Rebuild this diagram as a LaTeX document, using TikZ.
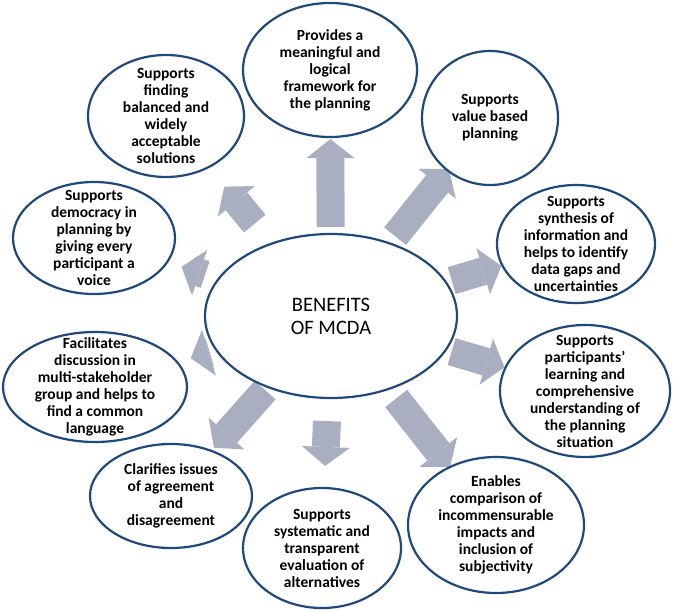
\documentclass[tikz,border=0pt]{standalone}
\usepackage{fontspec}
\setmainfont{Carlito}
\usetikzlibrary{shapes.geometric,arrows.meta,backgrounds}
\definecolor{ringblue}{RGB}{31,73,125}
\definecolor{arrowgray}{RGB}{169,175,193}
\tikzset{
  benefit/.style={ellipse, draw=ringblue, line width=2.2pt, fill=white, align=center,
    inner xsep=-12pt, inner ysep=-25pt, font=\fontsize{15.5}{17}\selectfont\bfseries},
  benefitarrow/.style={color=arrowgray, line width=28pt,
    -{Triangle[length=19pt,width=48pt,line width=0pt]}}
}
\begin{document}
\begin{tikzpicture}[x=1pt,y=-1pt]
\useasboundingbox (0,0) rectangle (673,610);
% centre
\node[benefit, inner sep=2pt, minimum width=252pt, minimum height=164pt,
  font=\fontsize{20.5}{23}\selectfont] (mcda) at (331,316) {BENEFITS\\OF MCDA};
% benefits, clockwise from the top
\node[benefit, minimum width=174pt, minimum height=134pt] (frame) at (330,70) {Provides a\\meaningful and\\logical\\framework for\\the planning};
\node[benefit, minimum width=136pt, minimum height=134pt] (value) at (490,118) {Supports\\value based\\planning};
\node[benefit, minimum width=158pt, minimum height=118pt] (synth) at (576,244) {Supports\\synthesis of\\information and\\helps to identify\\data gaps and\\uncertainties};
\node[benefit, minimum width=170pt, minimum height=132pt] (learn) at (585,391) {Supports\\participants'\\learning and\\comprehensive\\understanding of\\the planning\\situation};
\node[benefit, minimum width=176pt, minimum height=136pt] (compare) at (496,525) {Enables\\comparison of\\incommensurable\\impacts and\\inclusion of\\subjectivity};
\node[benefit, minimum width=158pt, minimum height=120pt] (evaluate) at (322,548) {Supports\\systematic and\\transparent\\evaluation of\\alternatives};
\node[benefit, minimum width=162pt, minimum height=104pt] (clarify) at (171,496) {Clarifies issues\\of agreement\\and\\disagreement};
\node[benefit, minimum width=184pt, minimum height=110pt] (discuss) at (95,387) {Facilitates\\discussion in\\multi-stakeholder\\group and helps to\\find a common\\language};
\node[benefit, minimum width=162pt, minimum height=112pt] (democracy) at (94,238) {Supports\\democracy in\\planning by\\giving every\\participant a\\voice};
\node[benefit, minimum width=156pt, minimum height=122pt] (balance) at (166,116) {Supports\\finding\\balanced and\\widely\\acceptable\\solutions};
% arrows behind the ellipses
\begin{scope}[on background layer]
\foreach \n/\s/\e in {frame/6/1, value/8/-3, synth/5/0, learn/5/0, compare/11/-1,
    evaluate/22/21, clarify/3/3, discuss/6/13, democracy/13/14, balance/25/24}{
  \draw[benefitarrow, shorten <=\s pt, shorten >=\e pt] (mcda) -- (\n);
}
\end{scope}
\end{tikzpicture}
\end{document}
